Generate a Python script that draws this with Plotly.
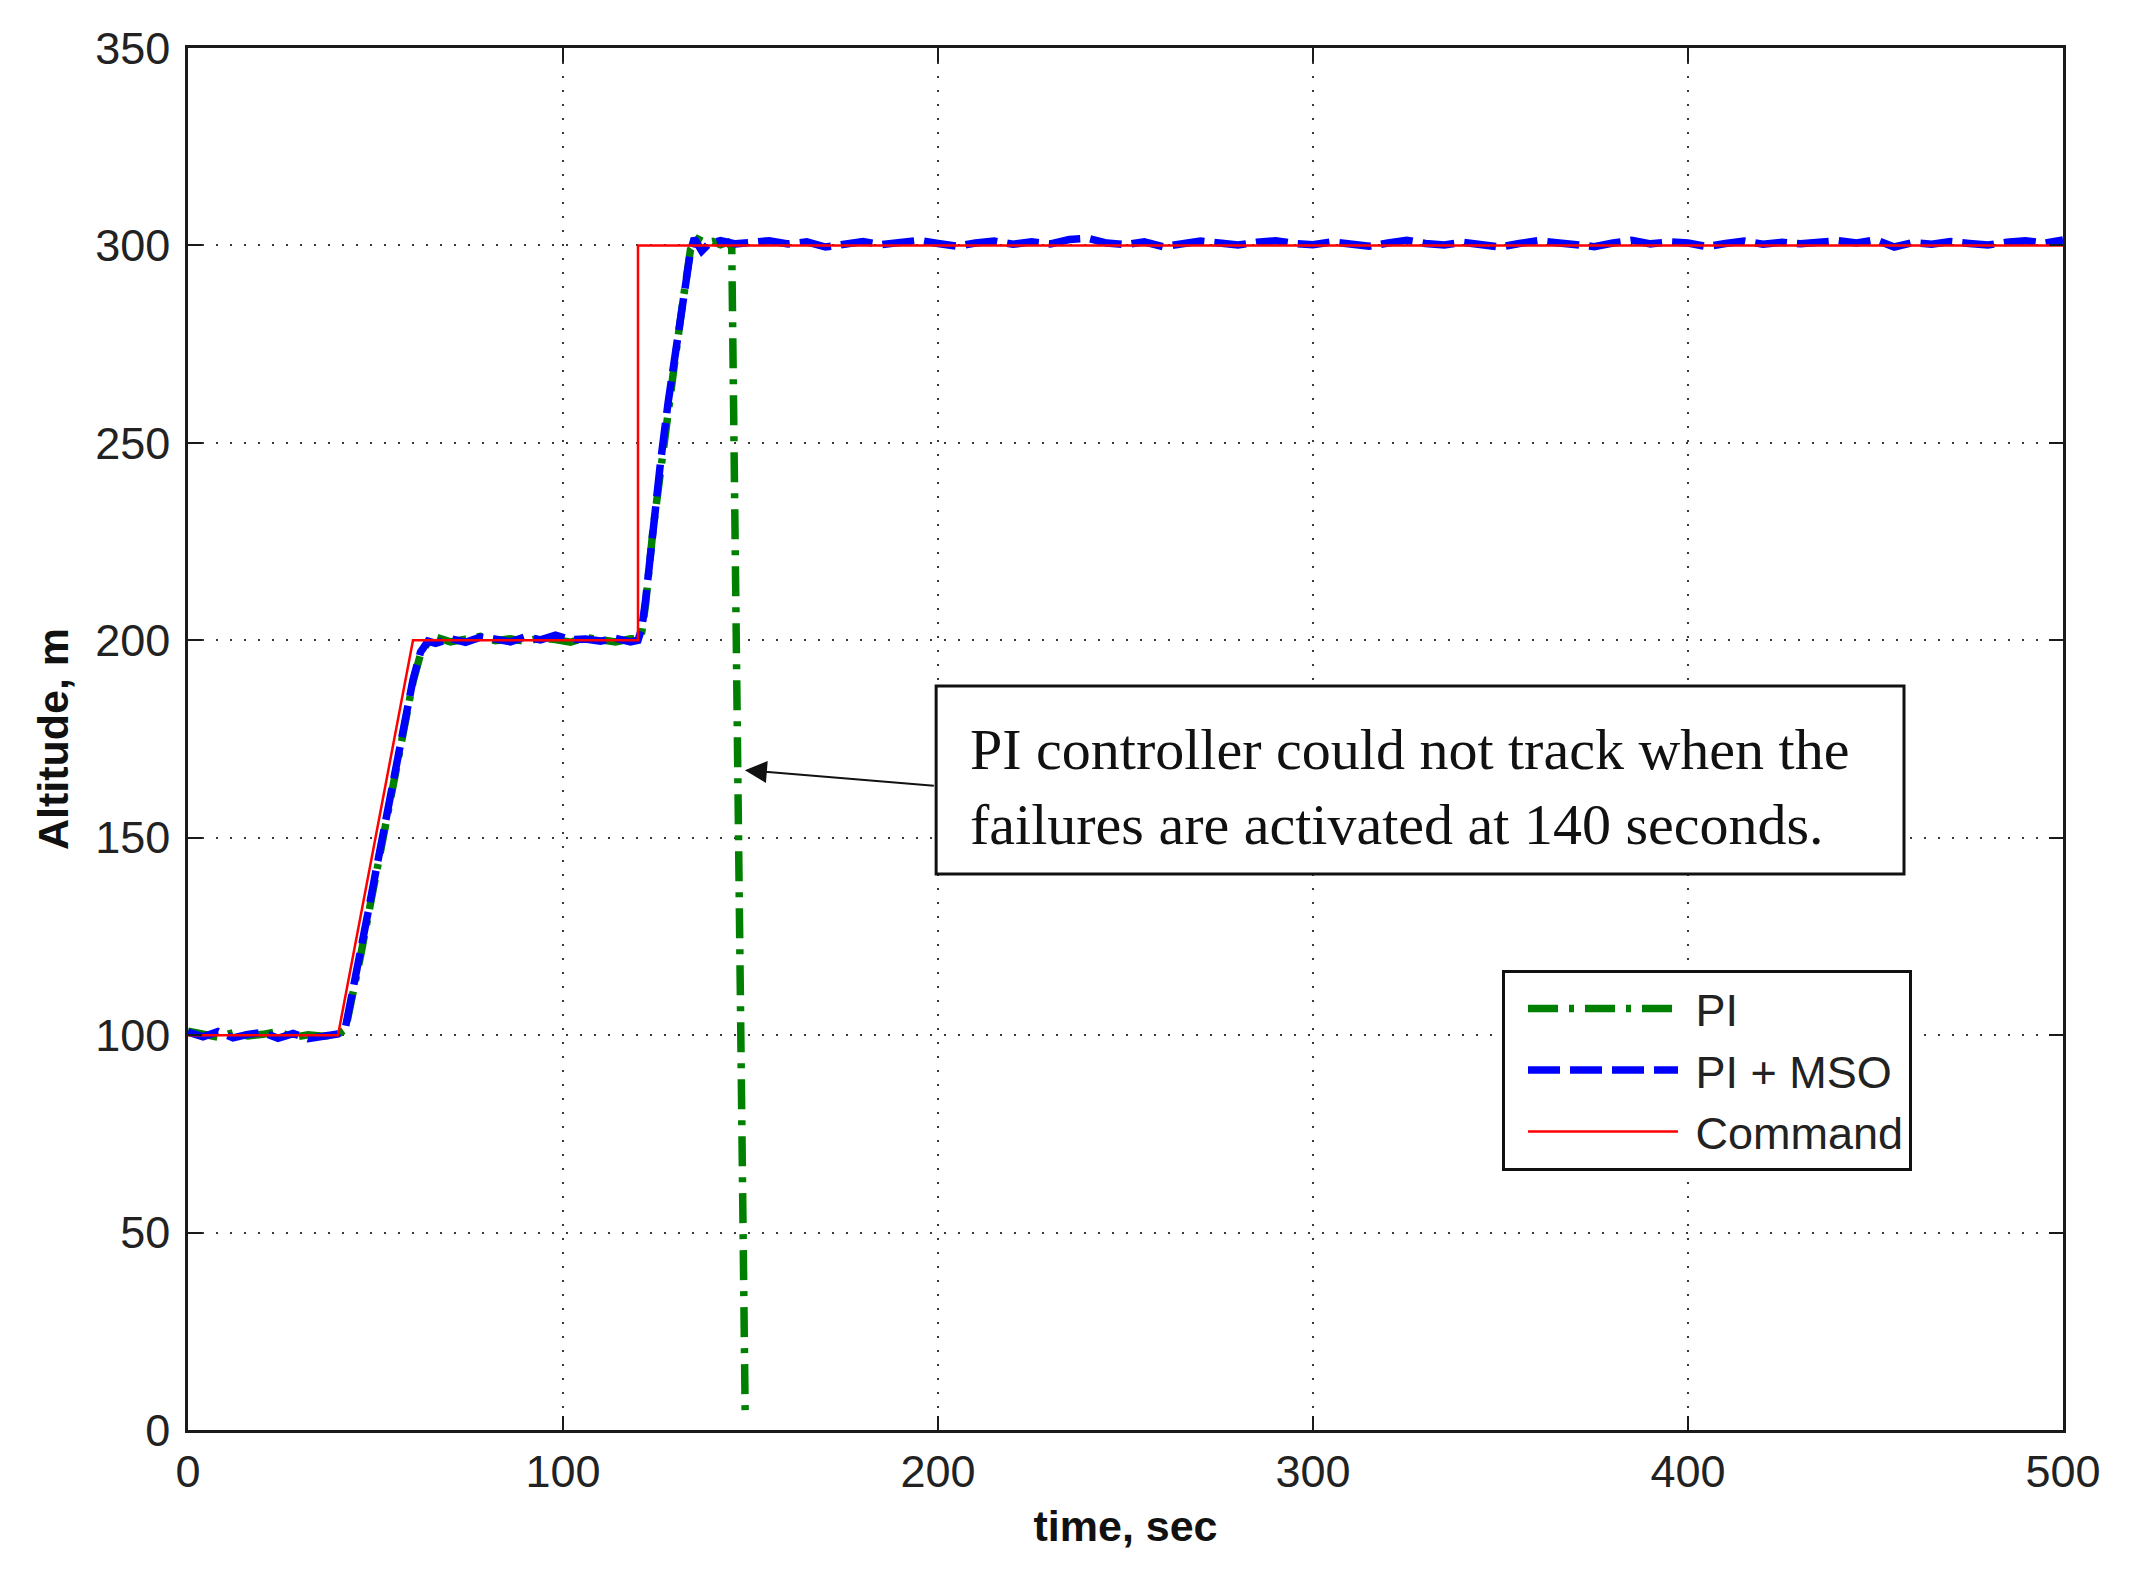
"""Altitude tracking: PI vs PI + MSO under failures at 140 s."""

import plotly.graph_objects as go

# command signal
t_cmd = [0, 40, 60, 120, 120, 500]
alt_cmd = [100, 100, 200, 200, 300, 300]

# PI + MSO response
t_mso = [
    0, 4, 8, 12, 16, 20, 24, 28, 32, 36, 40,
    42, 44, 46, 48, 50, 52, 54, 56, 58, 60, 62, 64,
    66, 70, 74, 78, 82, 86, 90, 94, 98, 102, 106, 110, 114, 118, 120,
    121, 122, 124, 126, 128, 130, 132, 134, 135, 137, 139, 142, 146,
    150, 155, 160, 165, 170, 175, 180, 185, 190, 195, 200, 205, 210, 215,
    220, 225, 230, 235, 240, 245, 250, 255, 260, 265, 270, 275, 280, 285,
    290, 295, 300, 305, 310, 315, 320, 325, 330, 335, 340, 345, 350, 355,
    360, 365, 370, 375, 380, 385, 390, 395, 400, 405, 410, 415, 420, 425,
    430, 435, 440, 445, 450, 455, 460, 465, 470, 475, 480, 485, 490, 495,
    500,
]
alt_mso = [
    100.8, 99.6, 100.9, 99.3, 100.2, 100.7, 99.2, 100.4, 99.1, 99.6, 100.3,
    102.0, 111.0, 121.0, 131.0, 141.0, 151.0, 161.0, 171.0, 181.0, 190.0, 197.0, 199.8,
    199.2, 200.4, 199.5, 200.8, 200.3, 199.6, 200.9, 200.1, 201.3, 200.2, 200.3, 199.8, 200.5, 199.6, 200.0,
    203.0, 210.0, 229.0, 245.0, 260.0, 273.0, 287.0, 298.5, 301.8, 298.6, 300.5, 301.2, 300.4,
    300.8, 301.2, 300.4, 300.9, 299.6, 300.3, 301.0, 300.2, 300.7, 301.3, 300.5, 299.8, 300.6, 301.1,
    300.3, 300.9, 300.4, 301.5, 301.8, 300.6, 300.2, 300.9, 299.7, 300.4, 301.1, 300.6, 300.1, 300.8,
    301.2, 300.5, 300.2, 300.9, 300.4, 299.8, 300.6, 301.3, 300.5, 300.1, 300.8, 300.3, 299.6, 300.5,
    301.2, 300.7, 300.2, 299.7, 300.6, 301.3, 300.4, 300.9, 300.6, 299.7, 300.5, 301.1, 300.3, 300.8,
    300.4, 300.9, 301.2, 300.6, 301.4, 299.6, 300.7, 300.3, 301.0, 300.5, 300.1, 300.8, 301.2, 300.6,
    301.4,
]

# PI response (diverges after the failures)
t_pi = [
    0, 4, 8, 12, 16, 20, 24, 28, 32, 36, 40,
    42, 44, 46, 48, 50, 52, 54, 56, 58, 60, 62, 64,
    66, 70, 74, 78, 82, 86, 90, 94, 98, 102, 106, 110, 114, 118, 120,
    121, 122, 124, 126, 128, 130, 132, 134, 136, 138, 140, 142, 144, 145, 148.6,
]
alt_pi = [
    101.0, 100.3, 99.5, 100.6, 99.8, 100.2, 100.9, 99.4, 100.1, 99.7, 100.2,
    101.5, 110.0, 120.0, 130.0, 140.0, 150.0, 160.0, 170.0, 180.0, 189.5, 196.5, 199.5,
    200.8, 199.6, 200.3, 201.0, 199.9, 200.4, 199.7, 200.6, 200.2, 199.5, 200.7, 200.1, 199.6, 200.4, 200.3,
    202.0, 209.0, 228.0, 244.0, 259.0, 272.0, 286.0, 299.0, 301.6, 300.6, 301.0, 300.2, 300.8, 299.5, 2.5,
]

x_ticks = [0, 100, 200, 300, 400, 500]
y_ticks = [0, 50, 100, 150, 200, 250, 300, 350]

note_text = "PI controller could not track when the<br>failures are activated at 140 seconds."

SANS = "Liberation Sans, Arial, sans-serif"
SERIF = "Liberation Serif, Times New Roman, serif"
GRID = "#3a3a3a"
NBSP = "\u00a0"

fig = go.Figure()

fig.add_trace(go.Scatter(
    x=t_pi, y=alt_pi, name=NBSP + "PI", mode="lines",
    line=dict(color="#008000", width=7.5, dash="30px,11px,5px,11px"),
))
fig.add_trace(go.Scatter(
    x=t_mso, y=alt_mso, name=NBSP + "PI + MSO", mode="lines",
    line=dict(color="#0000ff", width=7.5, dash="32px,10px"),
))
fig.add_trace(go.Scatter(
    x=t_cmd, y=alt_cmd, name=NBSP + "Command", mode="lines",
    line=dict(color="#ff0000", width=2.5),
))

axis_common = dict(
    showline=True,
    mirror="ticks",
    linecolor="#1a1a1a",
    linewidth=2.5,
    ticks="inside",
    ticklen=14,
    tickwidth=2,
    tickcolor="#1a1a1a",
    showgrid=True,
    gridcolor=GRID,
    gridwidth=2,
    griddash="2px,12px",
    zeroline=False,
    tickfont=dict(family=SANS, size=45, color="#222"),
)

fig.update_xaxes(
    range=[0, 500], tickvals=x_ticks, ticklabelstandoff=0,
    title=dict(text="<b>time, sec</b>", font=dict(family=SANS, size=43, color="#111"), standoff=16),
    **axis_common,
)
fig.update_yaxes(
    range=[0, 350], tickvals=y_ticks, ticklabelstandoff=6,
    title=dict(text="<b>Altitude, m</b>", font=dict(family=SANS, size=43, color="#111"), standoff=14),
    **axis_common,
)

# note box with arrow pointing at the PI trace
fig.add_shape(
    type="rect", xref="x", yref="y",
    x0=199.5, x1=457.6, y0=140.8, y1=188.4,
    line=dict(color="#111", width=3), fillcolor="white", layer="above",
)
fig.add_annotation(
    x=208, y=162.9, xref="x", yref="y", xanchor="left", yanchor="middle",
    text=note_text, showarrow=False, align="left",
    font=dict(family=SERIF, size=58, color="#111"),
)
fig.add_annotation(
    x=148.5, y=167.1, ax=199.3, ay=163.1, xref="x", yref="y", axref="x", ayref="y",
    text="", showarrow=True, arrowhead=2, arrowsize=2.2, arrowwidth=2,
    arrowcolor="#111", standoff=0,
)

fig.update_layout(
    width=2121,
    height=1569,
    paper_bgcolor="white",
    plot_bgcolor="white",
    margin=dict(l=180, r=66, t=40, b=147),
    font=dict(family=SANS, color="#111"),
    showlegend=True,
    legend=dict(
        x=0.7008, y=0.333, xanchor="left", yanchor="top",
        bgcolor="white", bordercolor="#111", borderwidth=3,
        font=dict(family=SANS, size=45, color="#222"),
        itemwidth=150, indentation=18, tracegroupgap=0,
    ),
)

fig.write_html("out.html")
